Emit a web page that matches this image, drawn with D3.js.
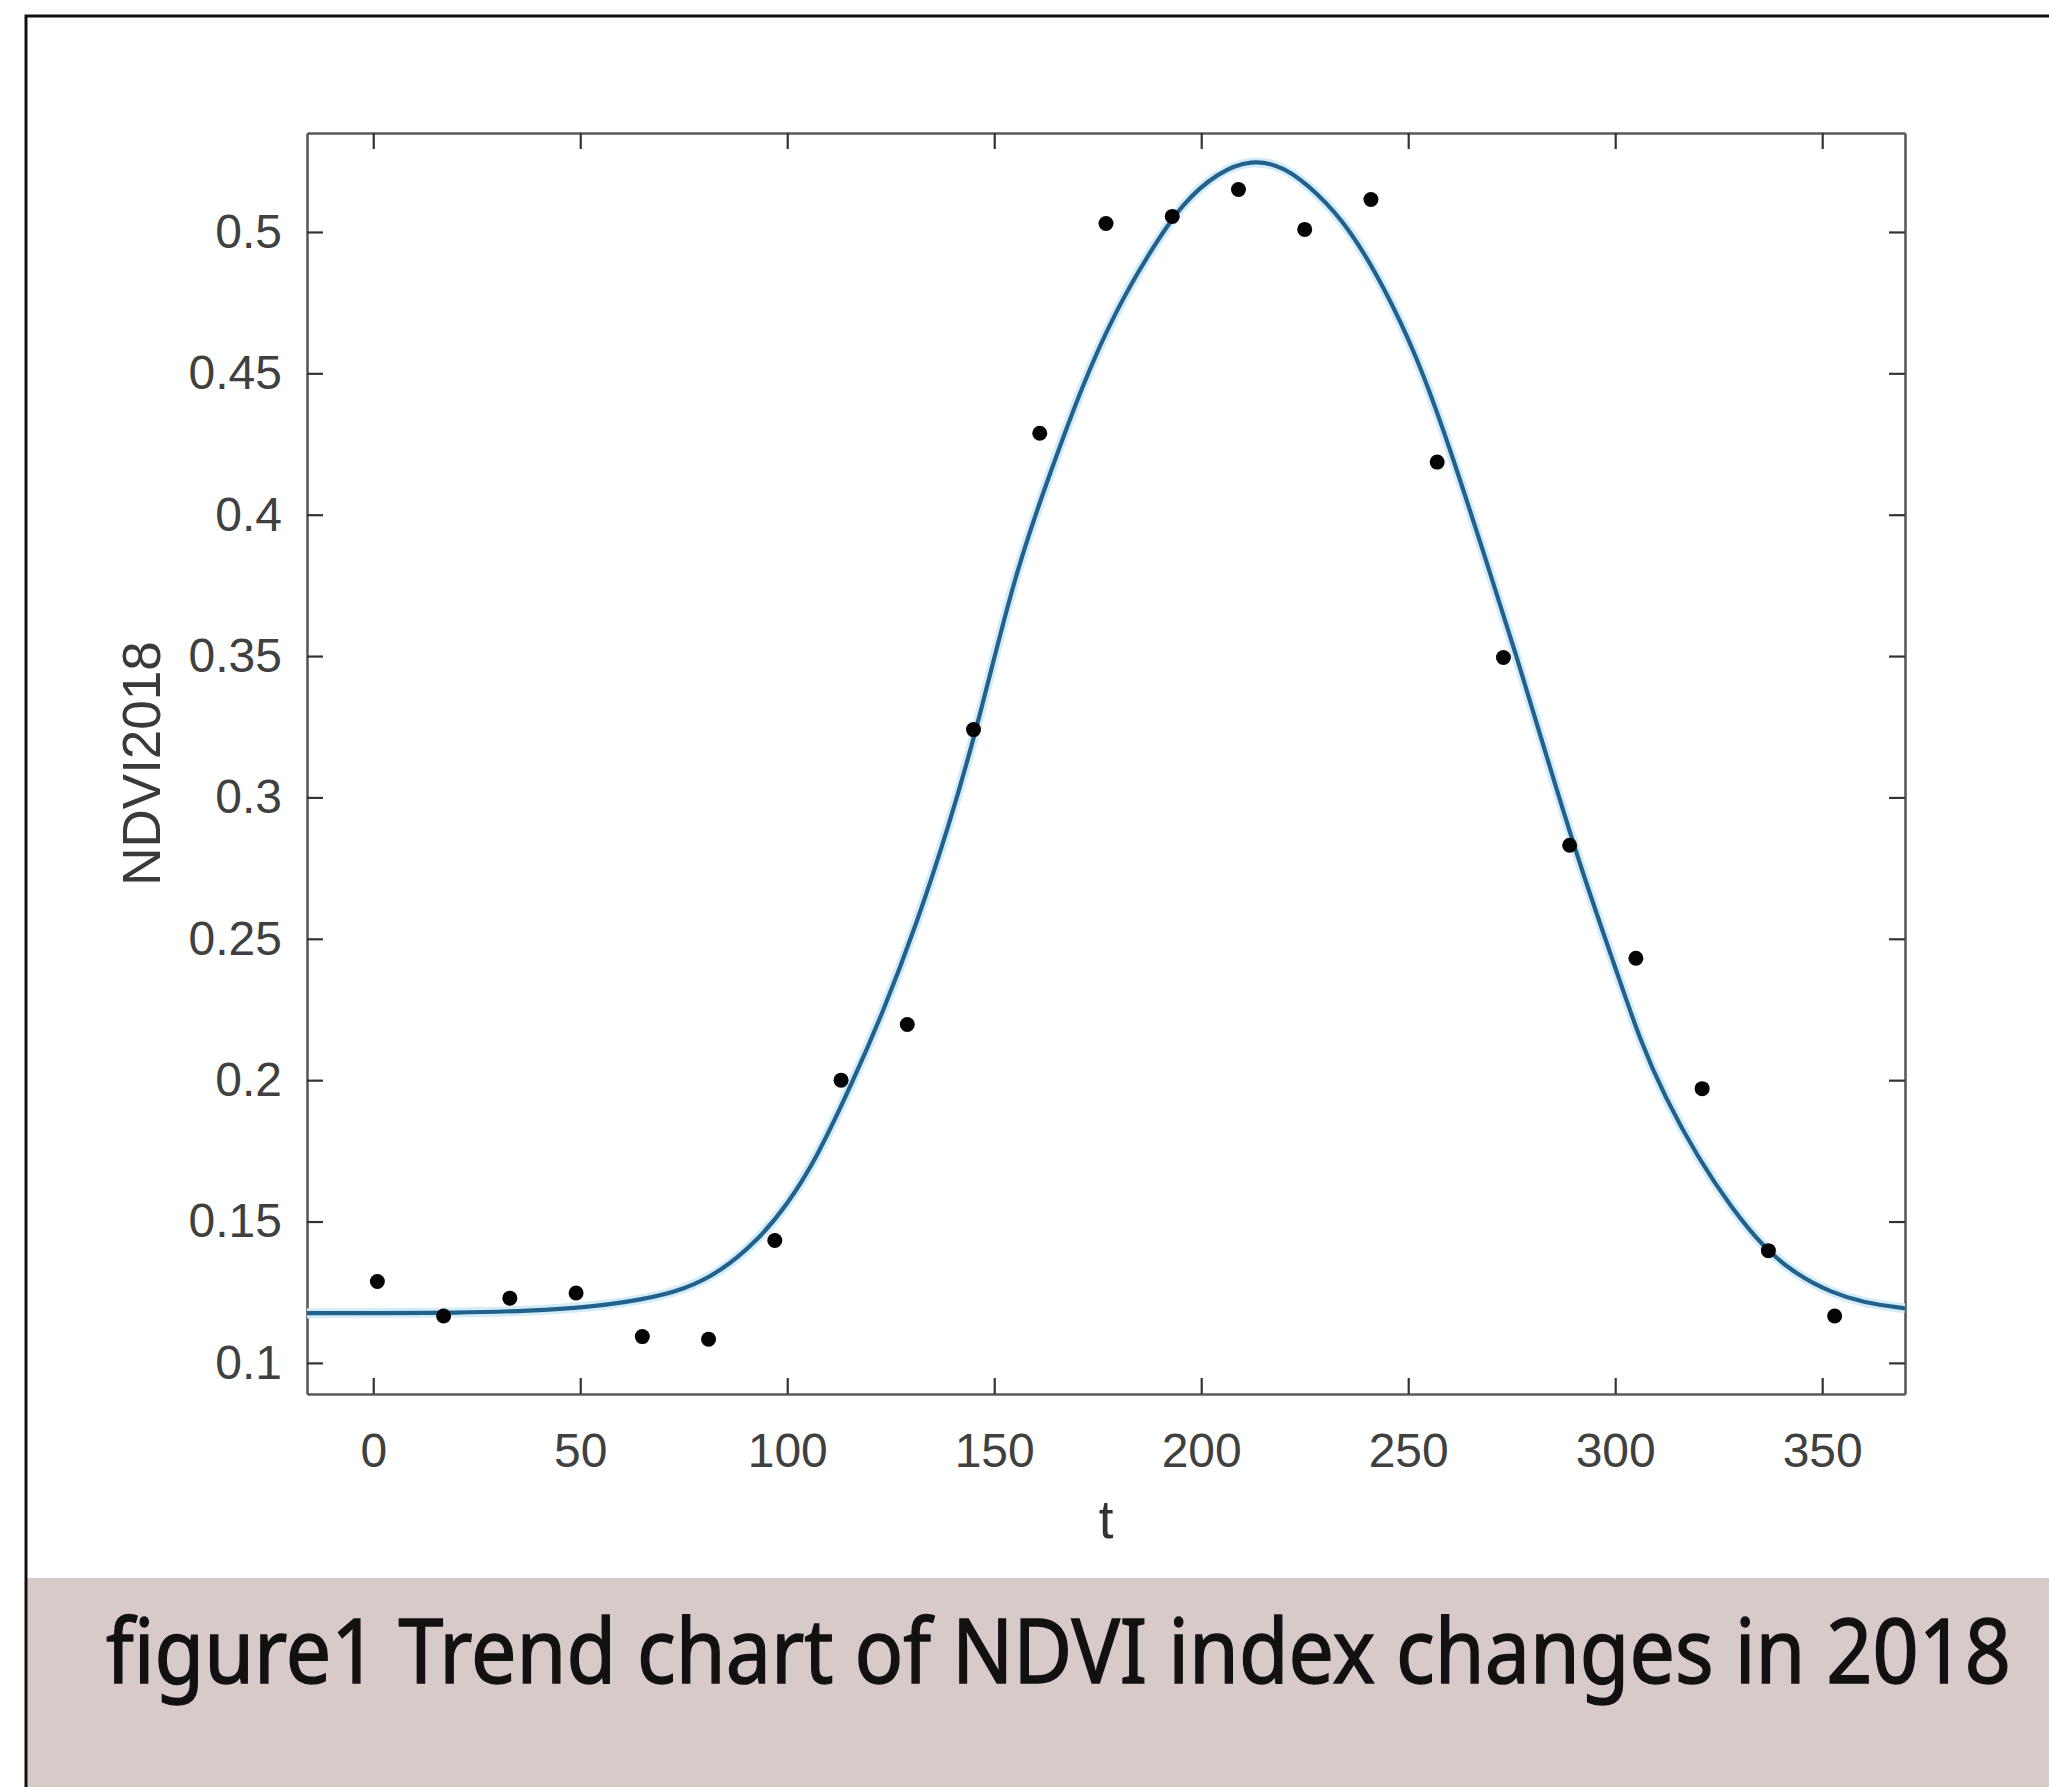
<!DOCTYPE html>
<html>
<head>
<meta charset="utf-8">
<script src="https://cdn.jsdelivr.net/npm/d3@7"></script>
<style>
  body { margin: 0; background: #fff; }
  svg { display: block; }
</style>
</head>
<body>
<svg id="chart" width="2049" height="1787"></svg>
<script>
// observations, every 16 days
var days = [1, 17, 33, 49, 65, 81, 97, 113, 129, 145, 161, 177, 193, 209, 225, 241, 257, 273, 289, 305, 321, 337, 353];
var ndvi = [0.1288, 0.1166, 0.1229, 0.1247, 0.1093, 0.1084, 0.1433, 0.2000, 0.2197, 0.3240, 0.4288, 0.5030,
            0.5055, 0.5150, 0.5009, 0.5115, 0.4186, 0.3495, 0.2831, 0.2431, 0.1970, 0.1397, 0.1166];

// fitted curve
var fitT = [-16, 0, 20, 38, 52, 65, 75, 84, 93, 100, 107, 116, 123, 131, 139, 146, 155, 163.5,
            171.5, 179.5, 187.5, 195.5, 204, 212, 220, 228, 236, 244, 252, 260, 268, 276, 284, 292, 300,
            306, 312, 320, 328, 336, 344, 352, 360, 370];
var fitV = [0.1176, 0.1176, 0.1177, 0.1184, 0.1197, 0.1223, 0.1258, 0.1323, 0.1435, 0.1560, 0.1720,
            0.2000, 0.2236, 0.2541, 0.2897, 0.3252, 0.3794, 0.4148, 0.4467, 0.4726, 0.4927,
            0.5104, 0.5210, 0.5257, 0.5233, 0.5139, 0.5009, 0.4809, 0.4565, 0.4240, 0.3874, 0.3510, 0.3116,
            0.2736, 0.2400, 0.2140, 0.1940, 0.1725, 0.1550, 0.1405, 0.1310, 0.1250, 0.1212, 0.1193];

var xTicks = [0, 50, 100, 150, 200, 250, 300, 350];
var yTicks = [0.1, 0.15, 0.2, 0.25, 0.3, 0.35, 0.4, 0.45, 0.5];
var yTickLabels = ["0.1", "0.15", "0.2", "0.25", "0.3", "0.35", "0.4", "0.45", "0.5"];

var xLabel = "t";
var yLabel = "NDVI2018";
var caption = "figure1 Trend chart of NDVI index changes in 2018";

var svg = d3.select("#chart");
var W = 2049, H = 1787;
var plot = {left: 307, right: 1905, top: 133, bottom: 1394};

svg.append("rect").attr("width", W).attr("height", H).attr("fill", "#fff");

// caption band
svg.append("rect")
    .attr("x", 27).attr("y", 1578)
    .attr("width", W - 27).attr("height", H - 1578)
    .attr("fill", "#d9caca");
svg.append("text")
    .attr("transform", "translate(106,1683) scale(1,1.2)")
    .attr("textLength", 1905)
    .attr("lengthAdjust", "spacingAndGlyphs")
    .style("font-family", "'Noto Sans', 'Open Sans', sans-serif")
    .style("font-size", "75px")
    .attr("fill", "#111")
    .attr("stroke", "#111")
    .attr("stroke-width", 1.2)
    .text(caption);

// outer frame (cropped on the right and bottom)
svg.append("path")
    .attr("d", "M26," + (H + 5) + "V16H" + (W + 5))
    .attr("fill", "none")
    .attr("stroke", "#111")
    .attr("stroke-width", 3);

var xScale = d3.scaleLinear().domain([-16, 370]).range([plot.left, plot.right]);
var yScale = d3.scaleLinear().domain([0.089, 0.535]).range([plot.bottom, plot.top]);

var tickLen = 16;
var fontAx = "'Liberation Sans', Arial, Helvetica, sans-serif";

var xAxis = svg.append("g")
    .attr("transform", "translate(0," + plot.bottom + ")")
    .call(d3.axisBottom(xScale).tickValues(xTicks).tickSizeInner(-tickLen).tickSizeOuter(0).tickPadding(39));
var xTop = svg.append("g")
    .attr("transform", "translate(0," + plot.top + ")")
    .call(d3.axisTop(xScale).tickValues(xTicks).tickSizeInner(-tickLen).tickSizeOuter(0).tickFormat(""));
var yAxis = svg.append("g")
    .attr("transform", "translate(" + plot.left + ",0)")
    .call(d3.axisLeft(yScale).tickValues(yTicks).tickSizeInner(-tickLen).tickSizeOuter(0).tickPadding(25)
        .tickFormat(function(d, i) { return yTickLabels[i]; }));
var yRight = svg.append("g")
    .attr("transform", "translate(" + plot.right + ",0)")
    .call(d3.axisRight(yScale).tickValues(yTicks).tickSizeInner(-tickLen).tickSizeOuter(0).tickFormat(""));

[xAxis, xTop, yAxis, yRight].forEach(function(g) {
    g.select(".domain").attr("stroke", "#5a5a5a").attr("stroke-width", 2.6);
    g.selectAll(".tick line").attr("stroke", "#333").attr("stroke-width", 2.2);
    g.selectAll(".tick text")
        .attr("fill", "#404040")
        .style("font-family", fontAx)
        .style("font-size", "48px");
});

// axis labels
svg.append("text")
    .attr("x", (plot.left + plot.right) / 2).attr("y", 1538)
    .attr("text-anchor", "middle")
    .attr("fill", "#333")
    .style("font-family", fontAx)
    .style("font-size", "53px")
    .text(xLabel);
svg.append("text")
    .attr("transform", "translate(160," + ((plot.top + plot.bottom) / 2) + ") rotate(-90)")
    .attr("text-anchor", "middle")
    .attr("fill", "#3a3a3a")
    .style("font-family", fontAx)
    .style("font-size", "53px")
    .text(yLabel);

// fitted curve
var fit = fitT.map(function(t, i) { return {t: t, v: fitV[i]}; });
svg.append("clipPath").attr("id", "clip")
    .append("rect")
    .attr("x", plot.left).attr("y", plot.top)
    .attr("width", plot.right - plot.left).attr("height", plot.bottom - plot.top);

var line = d3.line()
    .x(function(d) { return xScale(d.t); })
    .y(function(d) { return yScale(d.v); })
    .curve(d3.curveBasis);

svg.append("path")
    .datum(fit)
    .attr("clip-path", "url(#clip)")
    .attr("d", line)
    .attr("fill", "none")
    .attr("stroke", "#d3ecf9")
    .attr("stroke-width", 10);
svg.append("path")
    .datum(fit)
    .attr("clip-path", "url(#clip)")
    .attr("d", line)
    .attr("fill", "none")
    .attr("stroke", "#22618c")
    .attr("stroke-width", 4.2);

// observed points
var pts = days.map(function(t, i) { return {t: t, v: ndvi[i]}; });
svg.append("g").selectAll("circle").data(pts).enter()
    .append("circle")
    .attr("cx", function(d) { return xScale(d.t); })
    .attr("cy", function(d) { return yScale(d.v); })
    .attr("r", 7.5)
    .attr("fill", "#050505");
</script>
</body>
</html>
